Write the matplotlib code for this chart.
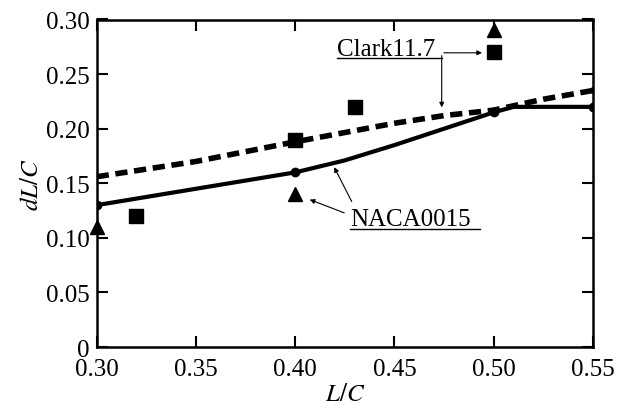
import matplotlib
matplotlib.use("Agg")
import matplotlib.pyplot as plt

plt.rcParams['font.family'] = ['Liberation Serif', 'DejaVu Serif']
plt.rcParams['mathtext.fontset'] = 'stix'

# NACA0015 computed curve (solid)
naca_x = [0.30, 0.35, 0.40, 0.425, 0.45, 0.475, 0.50, 0.51, 0.55]
naca_y = [0.130, 0.145, 0.160, 0.171, 0.185, 0.200, 0.215, 0.220, 0.220]
naca_pts_x = [0.30, 0.40, 0.50, 0.55]
naca_pts_y = [0.130, 0.160, 0.215, 0.220]

# Clark11.7 computed curve (dashed)
clark_x = [0.30, 0.35, 0.40, 0.45, 0.475, 0.50, 0.525, 0.55]
clark_y = [0.156, 0.170, 0.188, 0.205, 0.212, 0.217, 0.227, 0.235]

# measured points
sq_x = [0.32, 0.40, 0.43, 0.50]
sq_y = [0.120, 0.190, 0.220, 0.270]
tri_x = [0.30, 0.40, 0.50]
tri_y = [0.110, 0.140, 0.290]

xticks = [0.30, 0.35, 0.40, 0.45, 0.50, 0.55]
yticks = [0, 0.05, 0.10, 0.15, 0.20, 0.25, 0.30]
xticklabels = ["0.30", "0.35", "0.40", "0.45", "0.50", "0.55"]
yticklabels = ["0", "0.05", "0.10", "0.15", "0.20", "0.25", "0.30"]

fig = plt.figure(figsize=(6.18, 4.10), dpi=100)
ax = fig.add_axes([0.1565, 0.151, 0.803, 0.799])

ax.plot(naca_x, naca_y, "k-", linewidth=3, solid_capstyle="round")
ax.plot(naca_pts_x, naca_pts_y, "ko", markersize=6)
ax.plot(clark_x, clark_y, "k--", linewidth=4, dashes=(2.2, 1.2))
ax.plot([0.55], [0.235], "ko", markersize=4)
ax.plot(sq_x, sq_y, "ks", markersize=10, clip_on=False)
ax.plot(tri_x, tri_y, "k^", markersize=10, clip_on=False)

ax.set_xlim(0.30, 0.55)
ax.set_ylim(0, 0.30)
ax.set_xticks(xticks)
ax.set_xticklabels(xticklabels)
ax.set_yticks(yticks)
ax.set_yticklabels(yticklabels)
ax.tick_params(direction="in", length=8, width=1.5, top=True, right=True,
               labelsize=18)
ax.tick_params(axis="x", pad=8)
ax.tick_params(axis="y", pad=5)
for s in ax.spines.values():
    s.set_linewidth(1.8)

ax.set_xlabel(r"$L/C$", fontsize=18, labelpad=2)
ax.set_ylabel(r"$dL/C$", fontsize=18, labelpad=2)

# annotations
arrow = dict(arrowstyle="-|>", color="k", lw=0.8, mutation_scale=7)
ax.text(0.421, 0.2675, "Clark11.7", fontsize=18, ha="left", va="baseline")
ax.plot([0.421, 0.474], [0.2645, 0.2645], "k-", lw=1)
ax.annotate("", xy=(0.4955, 0.2695), xytext=(0.4735, 0.2695), arrowprops=arrow)
ax.annotate("", xy=(0.4738, 0.217), xytext=(0.4738, 0.2695), arrowprops=arrow)

ax.text(0.4276, 0.1115, "NACA0015", fontsize=18, ha="left", va="baseline")
ax.plot([0.4276, 0.493], [0.1085, 0.1085], "k-", lw=1)
ax.annotate("", xy=(0.406, 0.136), xytext=(0.426, 0.122), arrowprops=arrow)
ax.annotate("", xy=(0.419, 0.167), xytext=(0.4291, 0.131), arrowprops=arrow)

fig.savefig("out.png", dpi=100)
